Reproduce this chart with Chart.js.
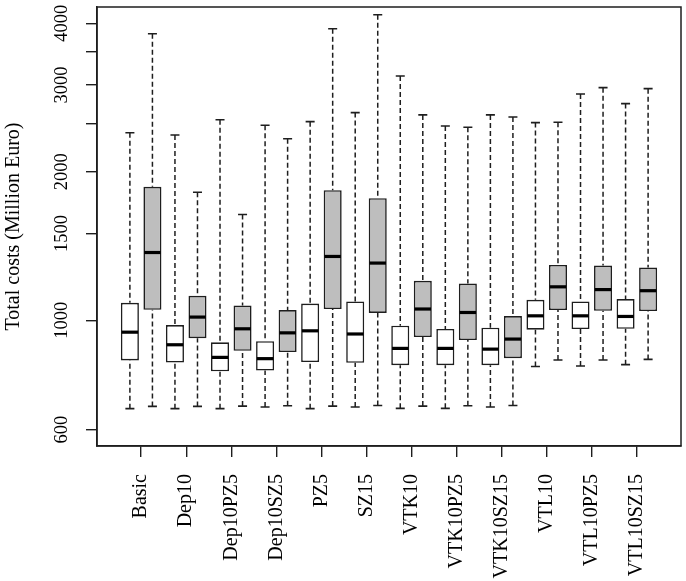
<!DOCTYPE html>
<html>
<head>
<meta charset="utf-8">
<script src="https://cdn.jsdelivr.net/npm/chart.js@4/dist/chart.umd.min.js"></script>
<style>
  html, body { margin: 0; padding: 0; background: #fff; }
  #wrap { width: 686px; height: 581px; }
</style>
</head>
<body>
<div id="wrap"><canvas id="grafico"></canvas></div>
<script>
// scenario names, one tick per pair of boxes
var escenarios = ['Basic', 'Dep10', 'Dep10PZ5', 'Dep10SZ5', 'PZ5', 'SZ15',
                  'VTK10', 'VTK10PZ5', 'VTK10SZ15', 'VTL10', 'VTL10PZ5', 'VTL10SZ15'];

// white boxes
var blancoMax = [2400, 2375, 2550, 2485, 2527, 2636, 3128, 2477, 2608, 2516, 2876, 2749];
var blancoQ3  = [1085,  978,  902,  907, 1081, 1092,  975,  960,  966, 1100, 1092, 1104];
var blancoMed = [ 946,  892,  841,  836,  952,  938,  877,  877,  874, 1021, 1021, 1018];
var blancoQ1  = [ 829,  821,  788,  791,  823,  820,  811,  811,  811,  957,  960,  961];
var blancoMin = [ 662,  662,  662,  667,  662,  667,  663,  663,  667,  806,  808,  813];

// grey boxes
var grisMax = [3810, 1818, 1638, 2334, 3900, 4163, 2608, 2462, 2583, 2520, 2962, 2948];
var grisQ3  = [1864, 1121, 1071, 1049, 1835, 1768, 1202, 1187, 1020, 1295, 1291, 1279];
var grisMed = [1372, 1015,  961,  943, 1347, 1306, 1054, 1037,  916, 1169, 1154, 1148];
var grisQ1  = [1050,  920,  867,  862, 1054, 1035,  925,  912,  838, 1049, 1045, 1044];
var grisMin = [ 669,  669,  670,  671,  670,  672,  670,  671,  672,  831,  831,  833];

var yTicks = [600, 1000, 1500, 2000, 2500, 3000, 3500, 4000];
var yTickLabels = ['600', '1000', '1500', '2000', '', '3000', '', '4000'];

// one record per box, white then grey for each scenario
var cajas = [];
for (var i = 0; i < escenarios.length; i++) {
    cajas.push({ x: 2 * i + 1, min: blancoMin[i], q1: blancoQ1[i], med: blancoMed[i], q3: blancoQ3[i], max: blancoMax[i] });
    cajas.push({ x: 2 * i + 2, min: grisMin[i], q1: grisQ1[i], med: grisMed[i], q3: grisQ3[i], max: grisMax[i] });
}

var colorLinea = '#1e1e1e';
var fuente = 'Liberation Serif, Times New Roman, serif';

// whiskers, staples, medians and the frame
var bigotes = {
    id: 'bigotes',
    afterDatasetsDraw: function(chart) {
        var ctx = chart.ctx;
        var xs = chart.scales.x;
        var ys = chart.scales.y;
        var half = xs.getPixelForValue(1.4) - xs.getPixelForValue(1);
        ctx.save();
        cajas.forEach(function(c) {
            var x = xs.getPixelForValue(c.x);
            var yMin = ys.getPixelForValue(c.min);
            var yQ1 = ys.getPixelForValue(c.q1);
            var yMed = ys.getPixelForValue(c.med);
            var yQ3 = ys.getPixelForValue(c.q3);
            var yMax = ys.getPixelForValue(c.max);

            ctx.strokeStyle = colorLinea;
            ctx.lineWidth = 1.5;
            ctx.setLineDash([5, 3]);
            ctx.beginPath();
            ctx.moveTo(x, yMax); ctx.lineTo(x, yQ3);
            ctx.moveTo(x, yMin); ctx.lineTo(x, yQ1);
            ctx.stroke();

            ctx.setLineDash([]);
            ctx.lineWidth = 1.6;
            ctx.beginPath();
            ctx.moveTo(x - half / 2, yMax); ctx.lineTo(x + half / 2, yMax);
            ctx.moveTo(x - half / 2, yMin); ctx.lineTo(x + half / 2, yMin);
            ctx.stroke();

            ctx.strokeStyle = '#000';
            ctx.lineWidth = 3.2;
            ctx.beginPath();
            ctx.moveTo(x - half + 0.8, yMed); ctx.lineTo(x + half - 0.8, yMed);
            ctx.stroke();
        });
        var a = chart.chartArea;
        ctx.strokeStyle = colorLinea;
        ctx.lineWidth = 1.5;
        ctx.strokeRect(a.left, a.top, a.right - a.left, a.bottom - a.top);
        ctx.restore();
    }
};

var ctx = document.getElementById('grafico').getContext('2d');
var myChart = new Chart(ctx, {
    type: 'bar',
    data: {
        datasets: [{
            label: 'Total costs',
            data: cajas.map(c => ({ x: c.x, y: [c.q1, c.q3] })),
            backgroundColor: function(context) {
                return context.dataIndex % 2 ? '#bebebe' : '#ffffff';
            },
            borderColor: colorLinea,
            borderWidth: 1.6,
            borderSkipped: false,
            categoryPercentage: 1.0,
            barPercentage: 0.8
        }]
    },
    plugins: [bigotes],
    options: {
        responsive: true,
        maintainAspectRatio: false,
        animation: false,
        layout: { padding: { top: 7, right: 5, left: 0, bottom: 0 } },
        plugins: {
            legend: { display: false },
            tooltip: { enabled: false }
        },
        scales: {
            x: {
                type: 'linear',
                min: -0.46,
                max: 25.46,
                offset: false,
                afterBuildTicks: function(scale) {
                    scale.ticks = escenarios.map((n, k) => ({ value: 2 * k + 1.5 }));
                },
                afterFit: function(scale) {
                    scale.height = 135;
                    scale.paddingLeft = 0;
                    scale.paddingRight = 0;
                },
                grid: {
                    offset: false,
                    drawOnChartArea: false,
                    drawTicks: true,
                    tickLength: 11,
                    tickColor: colorLinea,
                    lineWidth: 1.4
                },
                border: { display: true, color: colorLinea, width: 1.5 },
                ticks: {
                    autoSkip: false,
                    minRotation: 90,
                    maxRotation: 90,
                    padding: 17,
                    color: '#000',
                    font: { family: fuente, size: 20 },
                    callback: function(value, index) { return escenarios[index]; }
                }
            },
            y: {
                type: 'logarithmic',
                min: 556.1,
                max: 4315.4,
                afterBuildTicks: function(scale) {
                    scale.ticks = yTicks.map(v => ({ value: v }));
                },
                afterFit: function(scale) {
                    scale.width = 97;
                    scale.paddingTop = 0;
                    scale.paddingBottom = 0;
                },
                grid: {
                    drawOnChartArea: false,
                    drawTicks: true,
                    tickLength: 11,
                    tickColor: colorLinea,
                    lineWidth: 1.4
                },
                border: { display: true, color: colorLinea, width: 1.5 },
                ticks: {
                    minRotation: 90,
                    maxRotation: 90,
                    crossAlign: 'center',
                    padding: 5.5,
                    color: '#000',
                    font: { family: fuente, size: 18.5 },
                    callback: function(value, index) { return yTickLabels[index]; }
                },
                title: {
                    display: true,
                    text: 'Total costs (Million Euro)',
                    color: '#000',
                    font: { family: fuente, size: 20 },
                    padding: { top: 2, bottom: 0 }
                }
            }
        }
    }
});
</script>
</body>
</html>
